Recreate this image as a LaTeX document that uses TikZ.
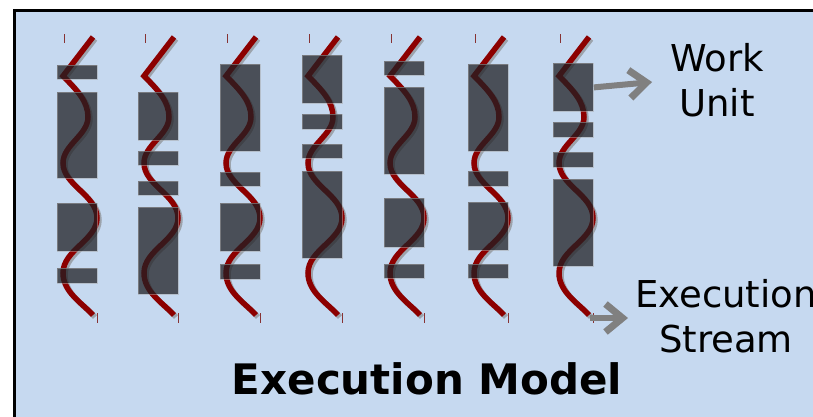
\documentclass[tikz,border=0pt]{standalone}
\usepackage{fontspec}
\setmainfont{DejaVu Sans}
\usetikzlibrary{arrows.meta,calc}

\definecolor{panelblue}{RGB}{198,217,240}
\definecolor{unitgray}{RGB}{32,32,36}
\definecolor{streamred}{RGB}{140,0,0}

\tikzset{
  unitbox/.style={rectangle, inner sep=0pt, minimum width=40pt, anchor=north west,
    fill=unitgray, fill opacity=0.74, draw=unitgray!40!white, draw opacity=0.5, line width=0.8pt},
  streamline/.style={draw=streamred, line width=5.5pt},
  streamshadow/.style={draw=gray, draw opacity=0.6, line width=5.5pt},
  tickmark/.style={draw=streamred!60!gray, line width=1pt},
  pointer/.style={draw=gray, line width=6pt, -{Straight Barb[length=17pt,width=28pt,line width=7pt]}},
  sidetext/.style={font=\fontsize{37}{45}\selectfont, align=center, inner sep=0pt},
  titletext/.style={font=\fontsize{42}{50}\selectfont\bfseries, inner sep=0pt},
  stream/.pic={
    % shadow first, then the wave itself
    \draw[streamshadow, shift={(2,2)}] (36,37) -- (6,76)
      .. controls (21,91) and (31,102) .. (31,117)
      .. controls (31,135) and (6,145) .. (6,163)
      .. controls (6,185) and (40,195) .. (40,218)
      .. controls (40,240) and (6,250) .. (6,273)
      .. controls (6,292) and (25,303) .. (36,315);
    \draw[streamline] (36,37) -- (6,76)
      .. controls (21,91) and (31,102) .. (31,117)
      .. controls (31,135) and (6,145) .. (6,163)
      .. controls (6,185) and (40,195) .. (40,218)
      .. controls (40,240) and (6,250) .. (6,273)
      .. controls (6,292) and (25,303) .. (36,315);
    % small marks at both ends
    \draw[tickmark] (7,34) -- (7,43);
    \draw[tickmark] (40,313) -- (40,323);
  }
}

\begin{document}
\begin{tikzpicture}[x=1pt, y=-1pt]
  \useasboundingbox (0,0) rectangle (813,416);

  % Panel
  \fill[white] (0,0) rectangle (813,416);
  \filldraw[fill=panelblue, draw=black, line width=3pt] (14,10) rectangle (840,440);

  % Execution streams
  \foreach \x in {57,138,220,302,384,468,553}
    \pic at (\x,0) {stream};

  % Work units on each stream
  \foreach \col/\x/\units in {
      1/57/{65/79,92/178,203/251,268/283},
      2/138/{92/140,151/165,181/195,207/294},
      3/220/{64/151,172/186,203/251,264/279},
      4/302/{55/103,114/129,144/158,171/258},
      5/384/{61/75,87/174,198/247,264/278},
      6/468/{64/151,171/186,202/250,264/278},
      7/553/{63/111,122/137,152/167,179/266}}
    \foreach \top/\bot [count=\k] in \units
      \node[unitbox, minimum height={(\bot-\top)*1pt}] (u\col-\k) at (\x,\top) {};

  % Labels
  \node[sidetext] (workunit) at (717,80.5) {Work\\Unit};
  \node[sidetext] (execstream) at (726,316.5) {Execution\\Stream};
  \node[titletext, anchor=base] (title) at (427,394) {Execution Model};

  % Pointers
  \coordinate (wutip) at (652,82);
  \coordinate (esfoot) at (590,318);
  \coordinate (estip) at (628,318);
  \draw[pointer] (u7-1.east) -- (wutip);
  \draw[pointer] (esfoot) -- (estip);
\end{tikzpicture}
\end{document}
